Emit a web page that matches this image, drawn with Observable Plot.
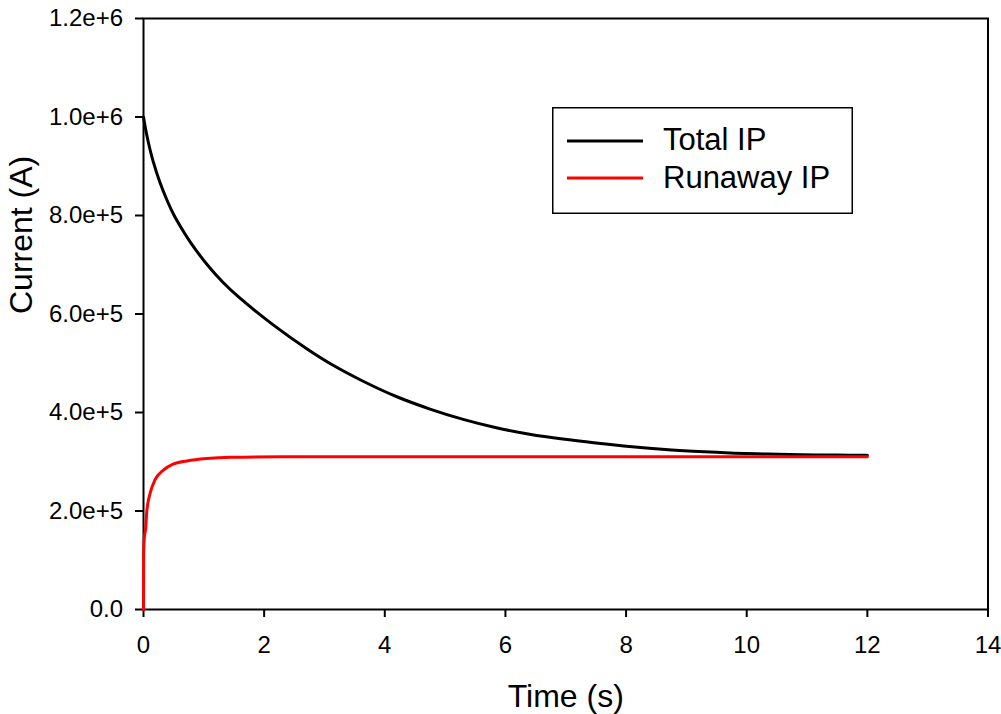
<!DOCTYPE html>
<html>
<head>
<meta charset="utf-8">
<script src="https://cdn.jsdelivr.net/npm/d3@7"></script>
<script src="https://cdn.jsdelivr.net/npm/@observablehq/plot@0.6"></script>
<style>
  html, body { margin: 0; padding: 0; background: white; }
  #wrap { position: relative; width: 1001px; height: 714px; overflow: hidden; }
  #chart svg { display: block; }
  #legend { position: absolute; left: 552px; top: 107px; }
</style>
</head>
<body>
<div id="wrap">
  <div id="chart"></div>
</div>
<script>
const FONT = "'Liberation Sans', Arial, Helvetica, sans-serif";

// Total plasma current (A) vs time (s)
const totalTime = [0, 0.05, 0.11, 0.16, 0.27, 0.39, 0.5, 0.63, 0.77, 1.05, 1.32, 1.6, 2.15, 2.7, 3.1, 3.65, 4.2, 4.75, 5.3, 5.85, 6.4, 6.95, 7.5, 8.1, 8.65, 9.2, 9.8, 10.35, 10.9, 11.5, 12];
const totalIP   = [1000000, 966000, 933000, 910000, 868000, 831000, 802000, 774000, 747000, 701000, 664000, 632000, 578000, 530000, 499000, 463000, 432000, 407000, 386000, 369000, 356000, 346000, 338000, 330500, 325000, 321000, 317500, 315500, 314300, 313500, 313000];

// Runaway plasma current (A) vs time (s)
const runawayTime = [0, 0.002, 0.01, 0.02, 0.036, 0.055, 0.11, 0.19, 0.33, 0.49, 0.72, 1.05, 1.45, 2.3, 4, 6, 8, 10, 12];
const runawayIP   = [0, 107000, 140000, 152000, 165000, 200000, 236000, 263000, 283000, 295000, 301500, 306500, 309000, 310000, 310300, 310300, 310300, 310300, 310300];

const seriesNames = ["Total IP", "Runaway IP"];
const seriesColors = ["black", "red"];

const xTicks = [0, 2, 4, 6, 8, 10, 12, 14];
const xTickLabels = ["0", "2", "4", "6", "8", "10", "12", "14"];
const yTicks = [0, 200000, 400000, 600000, 800000, 1000000, 1200000];
const yTickLabels = ["0.0", "2.0e+5", "4.0e+5", "6.0e+5", "8.0e+5", "1.0e+6", "1.2e+6"];

const xTitle = "Time (s)";
const yTitle = "Current (A)";

const total = totalTime.map((t, i) => ({t, v: totalIP[i]}));
const runaway = runawayTime.map((t, i) => ({t, v: runawayIP[i]}));

const chart = Plot.plot({
  width: 1001,
  height: 714,
  marginLeft: 143,
  marginRight: 13.5,
  marginTop: 18,
  marginBottom: 105,
  x: {domain: [0, 14]},
  y: {domain: [0, 1200000]},
  style: {fontFamily: FONT, fontSize: "24px", background: "white", color: "black"},
  marks: [
    Plot.axisX({ticks: xTicks, tickSize: 8, tickPadding: 18, strokeWidth: 2, label: null, fontSize: 24,
      tickFormat: d => xTickLabels[xTicks.indexOf(d)]}),
    Plot.axisY({ticks: yTicks, tickSize: 8, tickPadding: 12.5, strokeWidth: 2, label: null, fontSize: 24,
      tickFormat: d => yTickLabels[yTicks.indexOf(d)]}),
    Plot.frame({stroke: "black", strokeWidth: 2}),
    Plot.line(total, {x: "t", y: "v", stroke: seriesColors[0], strokeWidth: 3, curve: "catmull-rom"}),
    Plot.line(runaway, {x: "t", y: "v", stroke: seriesColors[1], strokeWidth: 3, curve: "monotone-x"}),
    Plot.text([xTitle], {text: d => d, frameAnchor: "bottom", lineAnchor: "bottom", dy: 97, fontSize: 32, fill: "black"}),
    Plot.text([yTitle], {text: d => d, frameAnchor: "left", rotate: -90, lineAnchor: "bottom", dx: -112, fontSize: 32, fill: "black"})
  ]
});
document.getElementById("chart").appendChild(chart);

// Legend box (overlay inside the plot area)
const ns = "http://www.w3.org/2000/svg";
const lg = document.createElementNS(ns, "svg");
lg.setAttribute("id", "legend");
lg.setAttribute("width", 302);
lg.setAttribute("height", 108);
const rect = document.createElementNS(ns, "rect");
rect.setAttribute("x", 0.75); rect.setAttribute("y", 0.75);
rect.setAttribute("width", 299.5); rect.setAttribute("height", 105.5);
rect.setAttribute("fill", "white"); rect.setAttribute("stroke", "black"); rect.setAttribute("stroke-width", 1.5);
lg.appendChild(rect);
const rowsY = [34, 71];
const textY = [43, 80.5];
seriesNames.forEach((name, i) => {
  const ln = document.createElementNS(ns, "line");
  ln.setAttribute("x1", 15); ln.setAttribute("x2", 91);
  ln.setAttribute("y1", rowsY[i]); ln.setAttribute("y2", rowsY[i]);
  ln.setAttribute("stroke", seriesColors[i]); ln.setAttribute("stroke-width", 3);
  lg.appendChild(ln);
  const tx = document.createElementNS(ns, "text");
  tx.setAttribute("x", 111); tx.setAttribute("y", textY[i]);
  tx.setAttribute("font-family", FONT); tx.setAttribute("font-size", 31);
  tx.setAttribute("fill", "black");
  tx.textContent = name;
  lg.appendChild(tx);
});
document.getElementById("wrap").appendChild(lg);
</script>
</body>
</html>
